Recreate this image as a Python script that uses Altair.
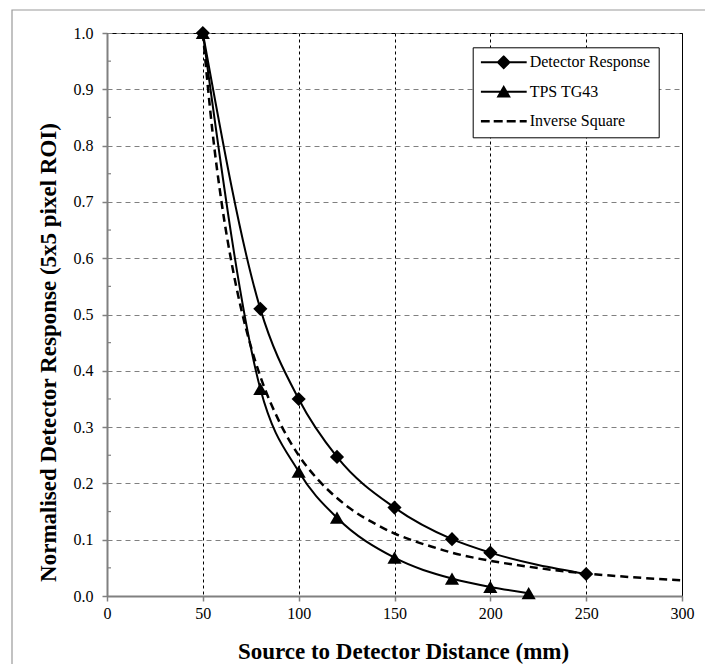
import altair as alt
import pandas as pd

# ---------------- data ----------------
series_names = ["Detector Response", "TPS TG43", "Inverse Square"]

det_x = [50, 80, 100, 120, 150, 180, 200, 250]
det_y = [1.0, 0.51, 0.35, 0.247, 0.157, 0.101, 0.077, 0.039]

tps_x = [50, 80, 100, 120, 150, 180, 200, 220]
tps_y = [1.0, 0.368, 0.221, 0.139, 0.068, 0.031, 0.016, 0.005]

inv_x = [50, 55, 60, 65, 70, 75, 80, 90, 100, 110, 120, 130, 140, 150,
         160, 170, 180, 190, 200, 220, 240, 260, 280, 300]
inv_y = [1.0, 0.826, 0.694, 0.592, 0.51, 0.444, 0.39, 0.309, 0.25, 0.207,
         0.174, 0.148, 0.128, 0.111, 0.098, 0.087, 0.077, 0.069, 0.0625,
         0.052, 0.0434, 0.037, 0.032, 0.028]

x_ticks = [0, 50, 100, 150, 200, 250, 300]
y_ticks = [0.0, 0.1, 0.2, 0.3, 0.4, 0.5, 0.6, 0.7, 0.8, 0.9, 1.0]
y_minor = [0.05, 0.15, 0.25, 0.35, 0.45, 0.55, 0.65, 0.75, 0.85, 0.95]

x_title = "Source to Detector Distance (mm)"
y_title = "Normalised Detector Response (5x5 pixel ROI)"

# ---------------- tables ----------------
det_df = pd.DataFrame({"x": det_x, "y": det_y, "series": series_names[0]})
tps_df = pd.DataFrame({"x": tps_x, "y": tps_y, "series": series_names[1]})
inv_df = pd.DataFrame({"x": inv_x, "y": inv_y, "series": series_names[2]})
minor_df = pd.DataFrame({"y": y_minor})
legend_df = pd.DataFrame({"series": series_names})

FONT = "Liberation Serif"
GRAY = "#808080"

W, H = 575, 563

xscale = alt.Scale(domain=[0, 300], nice=False)
yscale = alt.Scale(domain=[0, 1], nice=False)

x_axis = alt.Axis(
    values=x_ticks, title=x_title, titleFont=FONT, titleFontSize=23,
    titleFontWeight="bold", titleColor="black",
    titleX=296, titleY=55, titleBaseline="middle", titleAlign="center",
    labelFont=FONT, labelFontSize=16, labelColor="black", labelPadding=4,
    labelFlush=False,
    domainColor=GRAY, domainWidth=2, tickColor=GRAY, tickWidth=1.5, tickSize=5,
    grid=True, gridColor="black", gridDash=[3, 3], gridWidth=1,
)
y_axis = alt.Axis(
    values=y_ticks, format=".1f", title=y_title, titleFont=FONT,
    titleFontSize=23, titleFontWeight="bold", titleColor="black",
    titleX=-59, titleY=319, titleBaseline="middle", titleAlign="center",
    titleAngle=270,
    labelFont=FONT, labelFontSize=16, labelColor="black", labelPadding=9,
    labelFlush=False,
    domainColor=GRAY, domainWidth=2, tickColor=GRAY, tickWidth=1.5, tickSize=5,
    grid=True, gridColor=GRAY, gridDash=[5, 4], gridWidth=1,
)

# outer frame (decoration)
frame = alt.Chart(alt.Data(values=[{}])).mark_rect(
    fill="white", fillOpacity=0, stroke="#9a9a9a", strokeWidth=1.2
).encode(
    x=alt.value(-95), x2=alt.value(800), y=alt.value(-23), y2=alt.value(800)
)

base_axes = alt.Chart(det_df).mark_point(opacity=0).encode(
    x=alt.X("x:Q", scale=xscale, axis=x_axis),
    y=alt.Y("y:Q", scale=yscale, axis=y_axis),
)

minor_ticks = alt.Chart(minor_df).mark_rule(color=GRAY, strokeWidth=1.2).encode(
    y=alt.Y("y:Q", scale=yscale),
    x=alt.value(0), x2=alt.value(4),
)

def line_layer(df, dash=None, width=2.0):
    kw = dict(color="black", strokeWidth=width, interpolate="monotone")
    if dash:
        kw["strokeDash"] = dash
    return alt.Chart(df).mark_line(**kw).encode(
        x=alt.X("x:Q", scale=xscale),
        y=alt.Y("y:Q", scale=yscale),
    )

det_line = line_layer(det_df)
tps_line = line_layer(tps_df)
inv_line = line_layer(inv_df, dash=[8, 5], width=2.5)

det_pts = alt.Chart(det_df).mark_point(
    shape="diamond", filled=True, color="black", size=200, opacity=1
).encode(x=alt.X("x:Q", scale=xscale), y=alt.Y("y:Q", scale=yscale))

tps_pts = alt.Chart(tps_df).mark_point(
    shape="triangle-up", filled=True, color="black", size=200, opacity=1
).encode(x=alt.X("x:Q", scale=xscale), y=alt.Y("y:Q", scale=yscale))

# legend symbols: filled line + marker as custom paths (units of sqrt(size)/2)
path_det = ("M-2.875,-0.125H2.875V0.125H-2.875Z"
            "M0,-0.9L0.9,0L0,0.9L-0.9,0Z")
path_tps = ("M-2.875,-0.125H2.875V0.125H-2.875Z"
            "M0,-0.85L0.9,0.7L-0.9,0.7Z")
path_inv = ("M-2.875,-0.16H-1.75V0.16H-2.875Z"
            "M-1.25,-0.16H-0.125V0.16H-1.25Z"
            "M0.375,-0.16H1.5V0.16H0.375Z"
            "M2.0,-0.16H2.875V0.16H2.0Z")

legend_layer = alt.Chart(legend_df).mark_point(
    fill="black", strokeWidth=0, size=256, opacity=0
).encode(
    x=alt.value(0), y=alt.value(0),
    shape=alt.Shape(
        "series:N",
        scale=alt.Scale(domain=series_names,
                        range=[path_det, path_tps, path_inv]),
        sort=series_names,
        legend=alt.Legend(
            title=None, orient="none", legendX=365.7, legendY=14.3,
            padding=8, fillColor="white", strokeColor="black",
            labelFont=FONT, labelFontSize=16, labelColor="black",
            labelLimit=400, labelOffset=18,
            symbolSize=256, symbolStrokeWidth=0, symbolOpacity=1,
            symbolFillColor="black",
            symbolOffset=15, clipHeight=14, rowPadding=13.5,
        ),
    ),
)

chart = alt.layer(
    frame, base_axes, minor_ticks, inv_line, det_line, tps_line,
    det_pts, tps_pts, legend_layer
).properties(
    width=W, height=H,
    autosize=alt.AutoSizeParams(type="none"),
    padding={"left": 107, "top": 33, "right": 23, "bottom": 68},
    background="white",
).configure_view(stroke="black", strokeWidth=1)

chart.save("out.html", embed_options={"renderer": "svg", "actions": False})
